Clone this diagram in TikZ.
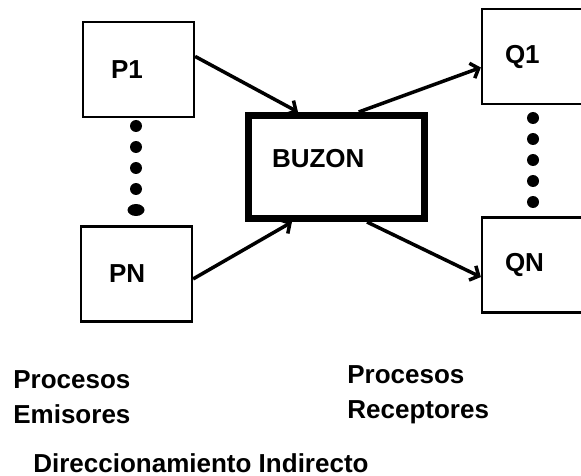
\documentclass[tikz,border=0pt]{standalone}
\usepackage{fontspec}
\setmainfont{Liberation Sans}
\usetikzlibrary{arrows.meta}

\begin{document}
\begin{tikzpicture}[x=0.02cm, y=-0.02cm, >={Straight Barb[length=4pt,width=9pt]},
  proc/.style={draw, line width=1.3pt, minimum width=2.22cm, minimum height=1.9cm,
    text width=1.1cm, inner xsep=0.56cm, align=left, font=\bfseries\fontsize{14.8}{19.9}\selectfont},
  recv/.style={proc, text width=1.3cm, inner xsep=0.46cm},
  buzon/.style={draw, line width=4pt, minimum width=3.52cm, minimum height=2.06cm,
    text width=2.58cm, inner xsep=0.47cm, text depth=0.34cm, align=left,
    font=\bfseries\fontsize{14.8}{19.9}\selectfont},
  tag/.style={inner sep=0pt, align=left, font=\bfseries\fontsize{14.8}{19.9}\selectfont},
  arr/.style={->, line width=2pt}]
\clip (0,0) rectangle (581,476);

% emisores, buzon y receptores
\node[proc] (p1) at (138.5,69.5) {P1};
\node[proc] (pn) at (136.5,274) {PN};
\node[buzon] (buzon) at (336.5,167) {BUZON};
\node[recv] (q1) at (537.5,56.5) {Q1};
\node[recv] (qn) at (537.5,265) {QN};

% puntos suspensivos
\foreach \k in {0,...,3}
  \fill (136,{126+21*\k}) circle[radius=0.12cm];
\fill (136,210) ellipse[x radius=0.17cm, y radius=0.12cm];
\foreach \k in {0,...,4}
  \fill (533,{118+21*\k}) circle[radius=0.12cm];

\draw[arr] (p1.13) -- (buzon.125);
\draw[arr] (pn.-5) -- (buzon.231);
\draw[arr] (buzon.68) -- (q1.191);
\draw[arr] (buzon.299) -- (qn.192);

\node[tag, anchor=north west] (emis) at (13,370) {Procesos\\Emisores};
\node[tag, anchor=north west] (recep) at (347,365) {Procesos\\Receptores};
\node[tag, anchor=base west] (titulo) at (33,472) {Direccionamiento Indirecto};
\end{tikzpicture}
\end{document}
